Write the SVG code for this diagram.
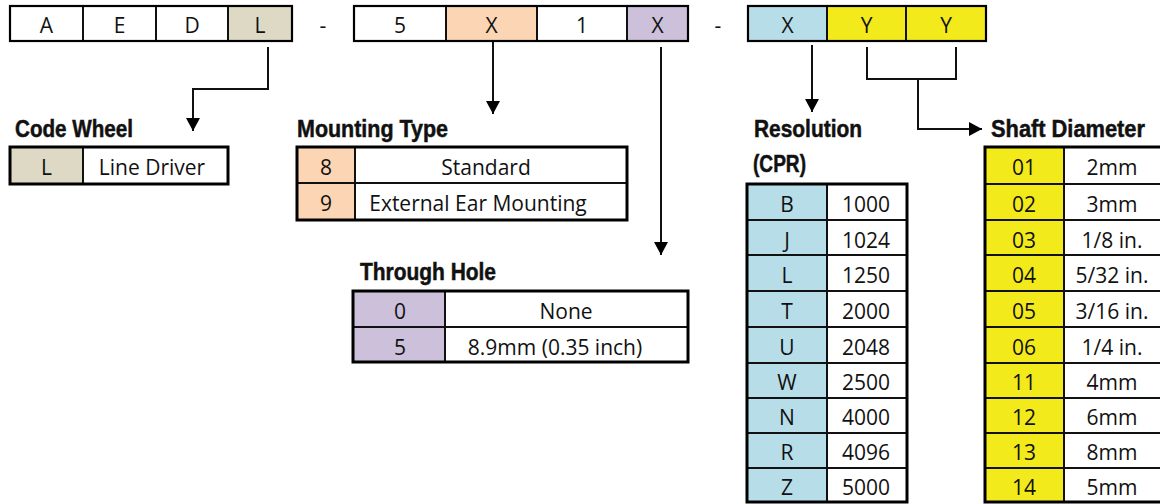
<svg xmlns="http://www.w3.org/2000/svg" width="1160" height="504" viewBox="0 0 1160 504">
<defs>
<style>
.t{font-family:"Open Sans","Liberation Sans",sans-serif;font-size:21px;fill:#111;text-anchor:middle}
.h{font-family:"Liberation Sans",Arial,sans-serif;font-weight:bold;font-size:24px;fill:#111;stroke:#111;stroke-width:0.5}
.ob{fill:none;stroke:#000;stroke-width:3}
.ot{fill:none;stroke:#000;stroke-width:2.2}
.in{stroke:#111;stroke-width:2;fill:none}
.tan{fill:#DDD9C4}.org{fill:#FCD5B4}.pur{fill:#CCC0DA}.blu{fill:#B7DEE8}.yel{fill:#F3EA1C}.wht{fill:#fff}
.cn{fill:none;stroke:#111;stroke-width:2}
</style>
<marker id="ah" markerUnits="userSpaceOnUse" markerWidth="14" markerHeight="14" viewBox="0 0 14 14" refX="13" refY="7" orient="auto">
<path d="M0,0 L13,7 L0,14 Z" fill="#000"/>
</marker>
</defs>
<rect width="1160" height="504" fill="#fff"/>

<g id="code-top">
<rect class="tan" x="228" y="6" width="64" height="35"/>
<path class="in" d="M83,6V41M156,6V41M228,6V41"/>
<rect class="ot" x="10" y="6" width="282" height="35"/>
<text class="t" x="46.5" y="33">A</text>
<text class="t" x="119.5" y="33">E</text>
<text class="t" x="192" y="33">D</text>
<text class="t" x="260" y="33">L</text>
<text class="t" x="323" y="33">-</text>
</g>
<g id="code-mid">
<rect class="org" x="446" y="6" width="91" height="35"/>
<rect class="pur" x="627" y="6" width="61" height="35"/>
<path class="in" d="M446,6V41M537,6V41M627,6V41"/>
<rect class="ot" x="354" y="6" width="334" height="35"/>
<text class="t" x="400" y="33">5</text>
<text class="t" x="491.5" y="33">X</text>
<text class="t" x="582" y="33">1</text>
<text class="t" x="657.5" y="33">X</text>
<text class="t" x="718" y="33">-</text>
</g>
<g id="code-end">
<rect class="blu" x="748" y="6" width="79" height="35"/>
<rect class="yel" x="827" y="6" width="159" height="35"/>
<path class="in" d="M827,6V41M906,6V41"/>
<rect class="ot" x="748" y="6" width="238" height="35"/>
<text class="t" x="787.5" y="33">X</text>
<text class="t" x="866.5" y="33">Y</text>
<text class="t" x="946" y="33">Y</text>
</g>

<g id="connectors">
<path class="cn" d="M268,47V89H193V131" marker-end="url(#ah)"/>
<path class="cn" d="M493,42V114" marker-end="url(#ah)"/>
<path class="cn" d="M661,47V255" marker-end="url(#ah)"/>
<path class="cn" d="M812,45V112" marker-end="url(#ah)"/>
<path class="cn" d="M867,47V79H956V47M918,79V129H982" marker-end="url(#ah)"/>
</g>

<g id="code-wheel">
<text class="h" x="15" y="137" textLength="118" lengthAdjust="spacingAndGlyphs">Code Wheel</text>
<rect class="tan" x="10" y="147" width="73" height="37"/>
<path class="in" d="M83,147V184"/>
<rect class="ob" x="10" y="147" width="218" height="37"/>
<text class="t" x="46.5" y="175">L</text>
<text class="t" x="152" y="175">Line Driver</text>
</g>

<g id="mounting-type">
<text class="h" x="297" y="137" textLength="151" lengthAdjust="spacingAndGlyphs">Mounting Type</text>
<rect class="org" x="297" y="147" width="58" height="73"/>
<path class="in" d="M355,147V220M297,183H627"/>
<rect class="ob" x="297" y="147" width="330" height="73"/>
<text class="t" x="326" y="175">8</text>
<text class="t" x="486" y="175">Standard</text>
<text class="t" x="326" y="211">9</text>
<text class="t" x="478" y="211">External Ear Mounting</text>
</g>

<g id="through-hole">
<text class="h" x="360" y="280" textLength="136" lengthAdjust="spacingAndGlyphs">Through Hole</text>
<rect class="pur" x="353" y="291" width="92" height="71"/>
<path class="in" d="M445,291V362M353,327H688"/>
<rect class="ob" x="353" y="291" width="335" height="71"/>
<text class="t" x="400" y="319">0</text>
<text class="t" x="566" y="319">None</text>
<text class="t" x="400" y="355">5</text>
<text class="t" x="555" y="355">8.9mm (0.35 inch)</text>
</g>

<g id="resolution">
<text class="h" x="754" y="137" textLength="108" lengthAdjust="spacingAndGlyphs">Resolution</text>
<text class="h" x="753" y="172" textLength="53" lengthAdjust="spacingAndGlyphs">(CPR)</text>
<rect class="blu" x="747" y="184" width="80" height="318"/>
<path class="in" d="M827,184V502M747,220H907M747,255H907M747,291H907M747,327H907M747,363H907M747,398H907M747,433H907M747,468H907"/>
<rect class="ob" x="747" y="184" width="160" height="318"/>
<text class="t" x="787" y="212">B</text><text class="t" x="866" y="212">1000</text>
<text class="t" x="787" y="248">J</text><text class="t" x="866" y="248">1024</text>
<text class="t" x="787" y="283">L</text><text class="t" x="866" y="283">1250</text>
<text class="t" x="787" y="319">T</text><text class="t" x="866" y="319">2000</text>
<text class="t" x="787" y="355">U</text><text class="t" x="866" y="355">2048</text>
<text class="t" x="787" y="390">W</text><text class="t" x="866" y="390">2500</text>
<text class="t" x="787" y="425">N</text><text class="t" x="866" y="425">4000</text>
<text class="t" x="787" y="460">R</text><text class="t" x="866" y="460">4096</text>
<text class="t" x="787" y="495">Z</text><text class="t" x="866" y="495">5000</text>
</g>

<g id="shaft-diameter">
<text class="h" x="991" y="137" textLength="154" lengthAdjust="spacingAndGlyphs">Shaft Diameter</text>
<rect class="yel" x="985" y="147" width="79" height="355"/>
<path class="in" d="M1064,147V502M985,184H1170M985,220H1170M985,255H1170M985,291H1170M985,327H1170M985,363H1170M985,398H1170M985,433H1170M985,468H1170"/>
<rect class="ob" x="985" y="147" width="190" height="355"/>
<text class="t" x="1024" y="175">01</text><text class="t" x="1112" y="175">2mm</text>
<text class="t" x="1024" y="212">02</text><text class="t" x="1112" y="212">3mm</text>
<text class="t" x="1024" y="248">03</text><text class="t" x="1112" y="248">1/8 in.</text>
<text class="t" x="1024" y="283">04</text><text class="t" x="1112" y="283">5/32 in.</text>
<text class="t" x="1024" y="319">05</text><text class="t" x="1112" y="319">3/16 in.</text>
<text class="t" x="1024" y="355">06</text><text class="t" x="1112" y="355">1/4 in.</text>
<text class="t" x="1024" y="390">11</text><text class="t" x="1112" y="390">4mm</text>
<text class="t" x="1024" y="425">12</text><text class="t" x="1112" y="425">6mm</text>
<text class="t" x="1024" y="460">13</text><text class="t" x="1112" y="460">8mm</text>
<text class="t" x="1024" y="495">14</text><text class="t" x="1112" y="495">5mm</text>
</g>
</svg>
